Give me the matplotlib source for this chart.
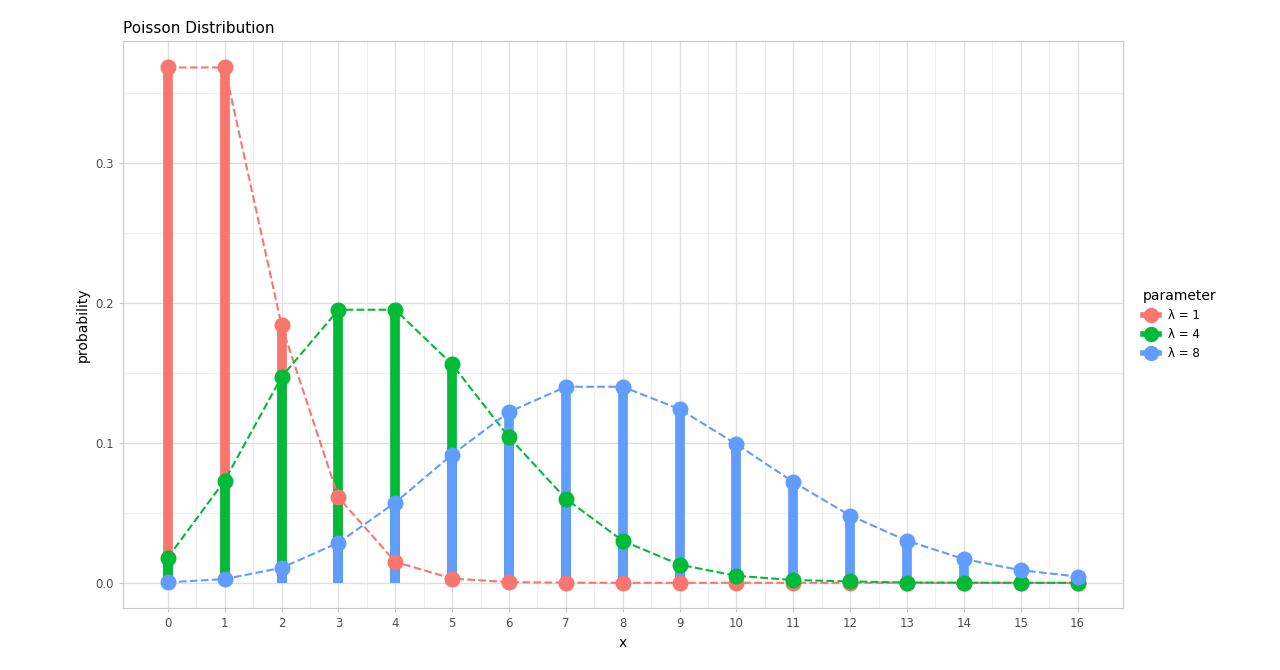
import numpy as np
import matplotlib.pyplot as plt
from matplotlib.lines import Line2D

x = np.arange(17)
p1 = [0.368, 0.368, 0.184, 0.061, 0.015, 0.003, 0.0005, 0.0001, 0, 0, 0, 0, 0, 0, 0, 0, 0]
p4 = [0.018, 0.073, 0.147, 0.195, 0.195, 0.156, 0.104, 0.060, 0.030, 0.013, 0.005,
      0.002, 0.001, 0.0002, 0.0001, 0, 0]
p8 = [0.0003, 0.0027, 0.0107, 0.0286, 0.0573, 0.0916, 0.122, 0.140, 0.140, 0.124,
      0.099, 0.072, 0.048, 0.030, 0.017, 0.009, 0.0045]
labels = ['λ = 1', 'λ = 4', 'λ = 8']
colors = ['#F8766D', '#00BA38', '#619CFF']
series = [p1, p4, p8]

fig = plt.figure(figsize=(12.8, 6.7), dpi=100)
ax = fig.add_axes([0.096, 0.0925, 0.781, 0.8465])

for p, c in zip(series, colors):
    ax.vlines(x, 0, p, color=c, lw=7, zorder=2)
    ax.plot(x, p, '--', color=c, lw=1.5, zorder=3)
for p, c in zip(series, colors):
    ax.plot(x, p, 'o', color=c, ms=10.5, zorder=4)

ax.set_xlim(-0.79, 16.79)
ax.set_ylim(-0.018, 0.387)
ax.set_xticks(x)
ax.set_xticks(x[:-1] + 0.5, minor=True)
ax.set_yticks([0, 0.1, 0.2, 0.3])
ax.set_yticklabels(['0.0', '0.1', '0.2', '0.3'])
ax.set_yticks([0.05, 0.15, 0.25, 0.35], minor=True)
ax.grid(True, which='major', color='#DEDEDE', lw=0.9)
ax.grid(True, which='minor', color='#EBEBEB', lw=0.6)
ax.set_axisbelow(True)
for s in ax.spines.values():
    s.set_color('#C8C8C8')
ax.tick_params(which='both', length=0, colors='#4D4D4D', labelsize=8.5)
ax.tick_params(which='major', length=3, color='#C8C8C8')
ax.set_xlabel('x', fontsize=10)
ax.set_ylabel('probability', fontsize=10)
ax.set_title('Poisson Distribution', loc='left', fontsize=11)

handles = [Line2D([], [], color=c, lw=4, marker='o', ms=10) for c in colors]
leg = ax.legend(handles, labels, title='parameter', loc='center left',
                bbox_to_anchor=(1.01, 0.5), frameon=False, fontsize=8.5,
                title_fontsize=10, handlelength=1.3)
leg._legend_box.align = 'left'

fig.savefig('out.png', dpi=100)
